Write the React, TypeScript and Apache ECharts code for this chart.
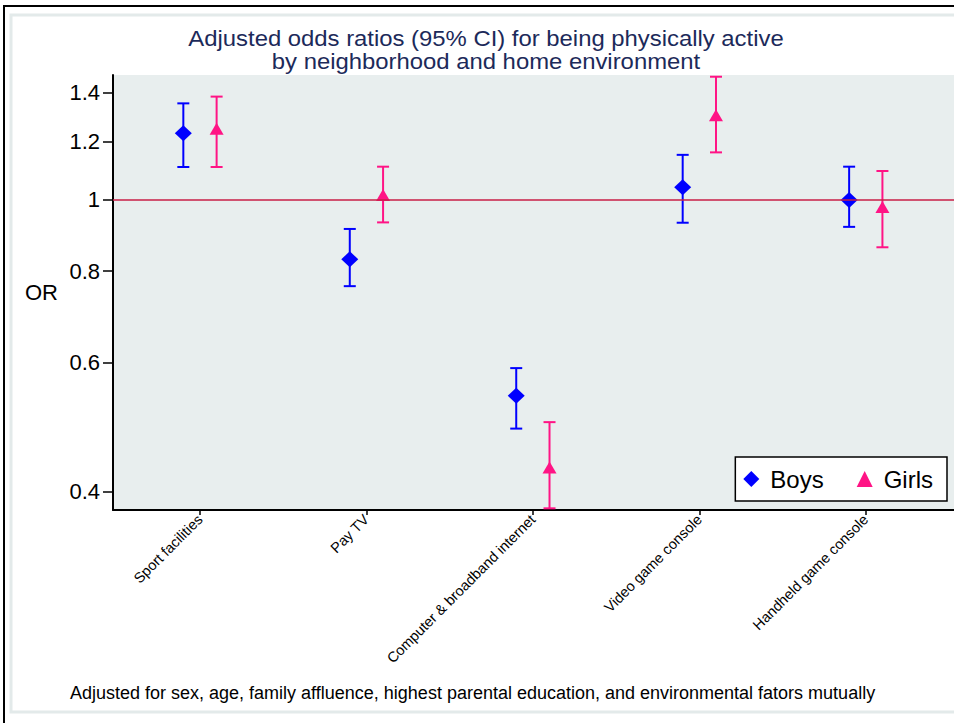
import React, { useEffect, useRef } from 'react';
import * as echarts from 'echarts';

const categories = [
  'Sport facilities',
  'Pay TV',
  'Computer & broadband internet',
  'Video game console',
  'Handheld game console',
];
const boysOR = [1.233, 0.83, 0.541, 1.041, 1.0];
const boysLower = [1.109, 0.763, 0.488, 0.931, 0.919];
const boysUpper = [1.354, 0.913, 0.59, 1.152, 1.11];
const girlsOR = [1.25, 1.016, 0.432, 1.304, 0.978];
const girlsLower = [1.109, 0.932, 0.38, 1.161, 0.862];
const girlsUpper = [1.383, 1.11, 0.498, 1.472, 1.095];
const yTicks = [0.4, 0.6, 0.8, 1, 1.2, 1.4];
const yMin = 0.378;
const yMax = 1.48;
const referenceOR = 1;

const titleLines = ['Adjusted odds ratios (95% CI) for being physically active', 'by neighborhood and home environment'];
const footnoteText =
  'Adjusted for sex, age, family affluence, highest parental education, and environmental fators mutually';

const BOYS = '#0000ff';
const GIRLS = '#ff1485';
const FONT = '"Liberation Sans", Arial, Helvetica, sans-serif';

export default function App() {
  const ref = useRef<HTMLDivElement>(null);
  useEffect(() => {
    const chart = echarts.init(ref.current!, null, { renderer: 'svg' });
    const lg = (v: number) => Math.log10(v);
    const xPos = categories.map((_, i) => i + 1);
    const tickLogs = yTicks.map(lg);

    const barSeries = (name: string, lower: number[], upper: number[], offset: number, color: string, extra: any = {}) => ({
      type: 'custom',
      name,
      z: 2,
      data: categories.map((_, i) => [i + 1 + offset, lg(lower[i]), lg(upper[i])]),
      encode: { x: 0, y: [1, 2] },
      renderItem: (params: any, api: any) => {
        const x = api.value(0) as number;
        const lo = api.coord([x, api.value(1)]);
        const hi = api.coord([x, api.value(2)]);
        const hw = 6;
        const st = { stroke: color, lineWidth: 2 };
        return {
          type: 'group',
          children: [
            { type: 'line', shape: { x1: lo[0], y1: lo[1], x2: hi[0], y2: hi[1] }, style: st },
            { type: 'line', shape: { x1: lo[0] - hw, y1: lo[1], x2: lo[0] + hw, y2: lo[1] }, style: st },
            { type: 'line', shape: { x1: hi[0] - hw, y1: hi[1], x2: hi[0] + hw, y2: hi[1] }, style: st },
          ],
        };
      },
      ...extra,
    });

    chart.setOption({
      animation: false,
      graphic: [
        { type: 'rect', z: -10, shape: { x: 4, y: 6, width: 1000, height: 800 }, style: { fill: '#fff', stroke: '#000', lineWidth: 2 } },
        { type: 'rect', z: -9, shape: { x: 11, y: 15, width: 1000, height: 697 }, style: { fill: 'none', stroke: '#e3eaea', lineWidth: 3 } },
        ...titleLines.map((t, i) => ({
          type: 'text',
          x: 486,
          y: 38 + i * 23,
          scaleX: 1.085,
          style: { text: t, textAlign: 'center', textVerticalAlign: 'middle', fill: '#1c2a5a', fontSize: 22, fontFamily: FONT },
        })),
        {
          type: 'text',
          x: 70,
          y: 693,
          style: { text: footnoteText, textAlign: 'left', textVerticalAlign: 'middle', fill: '#000', fontSize: 18, fontFamily: FONT },
        },
      ],
      grid: { left: 113, right: 0, top: 75, bottom: 213, show: true, backgroundColor: '#e8eeee', borderWidth: 0 },
      xAxis: {
        type: 'value',
        min: 0.4775,
        max: 5.53,
        splitLine: { show: false },
        axisLine: { show: true, onZero: false, lineStyle: { color: '#000', width: 2 } },
        axisTick: { show: true, customValues: xPos, length: 5, lineStyle: { color: '#000', width: 1.5 } },
        axisLabel: {
          customValues: xPos,
          rotate: 45,
          margin: 7,
          fontSize: 14.5,
          color: '#000',
          fontFamily: FONT,
          formatter: (v: number) => categories[Math.round(v) - 1] ?? '',
        },
      },
      yAxis: {
        type: 'value',
        min: lg(yMin),
        max: lg(yMax),
        name: 'OR',
        nameLocation: 'middle',
        nameRotate: 0,
        nameGap: 55,
        nameTextStyle: { fontSize: 22, color: '#000', fontFamily: FONT },
        splitLine: { show: false },
        axisLine: { show: true, onZero: false, lineStyle: { color: '#000', width: 2 } },
        axisTick: { show: true, customValues: tickLogs, length: 10, lineStyle: { color: '#000', width: 1.5 } },
        axisLabel: {
          customValues: tickLogs,
          margin: 13,
          fontSize: 22,
          color: '#000',
          fontFamily: FONT,
          formatter: (v: number) => {
            const i = tickLogs.findIndex((t) => Math.abs(t - v) < 1e-6);
            return i >= 0 ? String(yTicks[i]) : '';
          },
        },
      },
      legend: {
        data: ['Boys', 'Girls'],
        right: 7,
        top: 457,
        backgroundColor: '#fff',
        borderColor: '#000',
        borderWidth: 1.5,
        padding: [10, 14, 10, 8],
        itemWidth: 16,
        itemHeight: 16,
        itemGap: 33,
        selectedMode: false,
        textStyle: { fontSize: 24, color: '#000', fontFamily: FONT, padding: [0, 0, 0, 6] },
      },
      series: [
        barSeries('Boys CI', boysLower, boysUpper, -0.1, BOYS, {
          markLine: {
            silent: true,
            symbol: ['none', 'none'],
            label: { show: false },
            lineStyle: { color: '#c81e46', width: 1.5, type: 'solid' },
            data: [{ yAxis: lg(referenceOR) }],
          },
        }),
        barSeries('Girls CI', girlsLower, girlsUpper, 0.1, GIRLS),
        {
          type: 'scatter',
          name: 'Boys',
          z: 3,
          symbol: 'diamond',
          symbolSize: [17, 16],
          itemStyle: { color: BOYS, opacity: 1 },
          data: categories.map((_, i) => [i + 1 - 0.1, lg(boysOR[i])]),
        },
        {
          type: 'scatter',
          name: 'Girls',
          z: 3,
          symbol: 'triangle',
          symbolSize: [14, 12],
          itemStyle: { color: GIRLS, opacity: 1 },
          data: categories.map((_, i) => [i + 1 + 0.1, lg(girlsOR[i])]),
        },
      ],
    });
    return () => chart.dispose();
  }, []);
  return <div ref={ref} style={{ position: 'absolute', left: 0, top: 0, width: 954, height: 723 }} />;
}
